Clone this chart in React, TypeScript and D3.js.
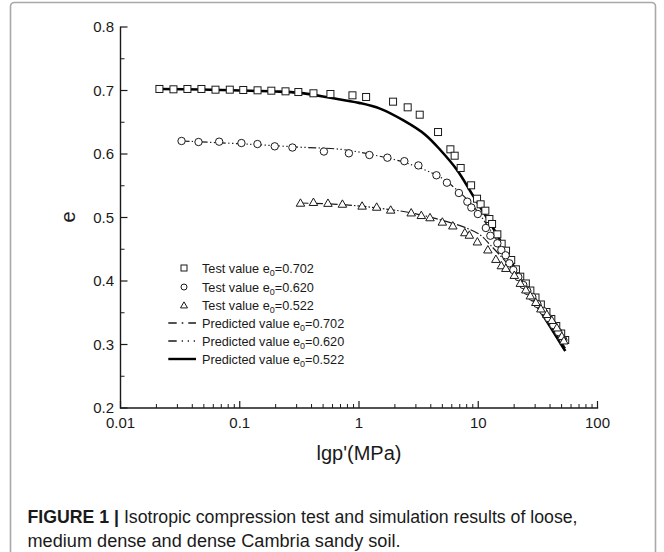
import React from "react";
import * as d3 from "d3";

// ---- data ----
const squareP = [0.0212, 0.0278, 0.0364, 0.0477, 0.0626, 0.0825, 0.107, 0.141, 0.184, 0.242, 0.31, 0.415, 0.576, 0.881, 1.147, 1.93, 2.56, 3.23, 4.6, 5.84, 6.34, 7.12, 8.71, 9.77, 10.47, 11.47, 12.4, 13.06, 14.46, 15.71, 17.1, 18.9, 20.7, 22.5, 25.06, 27.34, 30.2, 33.5, 37.3, 41.0, 45.1, 49.6, 53.6];
const squareE = [0.7024, 0.7019, 0.7024, 0.7024, 0.7013, 0.7013, 0.7008, 0.7003, 0.6997, 0.6987, 0.6976, 0.6956, 0.6945, 0.6924, 0.6898, 0.6824, 0.6735, 0.6619, 0.6346, 0.6074, 0.5973, 0.578, 0.5507, 0.5296, 0.5208, 0.5107, 0.4976, 0.4898, 0.4735, 0.4587, 0.4477, 0.4331, 0.4184, 0.4068, 0.3961, 0.385, 0.374, 0.363, 0.3512, 0.3402, 0.3291, 0.3173, 0.3071];

const circleP = [0.0325, 0.0451, 0.0672, 0.1033, 0.1407, 0.1965, 0.2765, 0.508, 0.823, 1.222, 1.73, 2.4, 3.15, 4.46, 5.46, 6.88, 8.1, 8.75, 9.92, 11.58, 12.63, 14.46, 15.62, 16.97, 18.23, 19.69, 21.69, 23.88, 25.8, 28.4, 31.3, 35.1, 38.7, 42.6, 46.9, 51.7];
const circleE = [0.6205, 0.6189, 0.6194, 0.6173, 0.6157, 0.6121, 0.6102, 0.6039, 0.6011, 0.5984, 0.5942, 0.5887, 0.582, 0.5665, 0.5548, 0.5386, 0.5249, 0.5157, 0.5055, 0.4835, 0.4713, 0.4594, 0.4488, 0.4405, 0.4279, 0.4173, 0.4063, 0.3937, 0.3843, 0.3748, 0.3638, 0.3528, 0.3417, 0.3307, 0.3197, 0.3071];

const triangleP = [0.323, 0.415, 0.549, 0.726, 1.062, 1.407, 1.844, 2.74, 3.33, 3.94, 5.0, 6.12, 7.72, 8.42, 9.83, 12.04, 14.05, 15.62, 17.03, 20.07, 22.54, 25.06, 27.34, 30.4, 33.5, 37.6, 41.4, 45.6, 50.2, 52.2];
const triangleE = [0.5224, 0.5236, 0.5222, 0.5208, 0.5178, 0.5161, 0.5115, 0.5071, 0.503, 0.4995, 0.4926, 0.4866, 0.4759, 0.472, 0.4614, 0.4488, 0.4339, 0.4239, 0.4197, 0.4087, 0.3961, 0.3858, 0.3764, 0.3661, 0.3559, 0.3472, 0.3378, 0.326, 0.3126, 0.3055];

// predicted curves
const pred702P = [0.0212, 0.0468, 0.123, 0.2, 0.318, 0.576, 1.0, 1.5, 2.38, 3.59, 4.81, 6.64, 9.15, 12.63, 17.44, 21.14, 33.2, 53.7];
const pred702E = [0.7024, 0.7016, 0.6995, 0.6985, 0.6962, 0.6885, 0.6805, 0.6715, 0.6525, 0.6305, 0.6063, 0.5748, 0.5328, 0.4909, 0.4436, 0.4135, 0.3528, 0.2898];

const pred620P = [0.0325, 0.123, 0.323, 0.698, 1.33, 2.53, 4.81, 6.64, 9.15, 12.63, 17.44, 21.14, 33.2, 53.7];
const pred620E = [0.6205, 0.6153, 0.6107, 0.6074, 0.5984, 0.5854, 0.5633, 0.5433, 0.517, 0.4803, 0.4383, 0.4121, 0.3559, 0.2945];

const pred522P = [0.317, 0.698, 1.51, 2.87, 5.48, 8.05, 10.4, 12.63, 17.44, 21.9, 33.2, 53.7];
const pred522E = [0.5228, 0.5205, 0.5145, 0.5066, 0.4934, 0.483, 0.4724, 0.4567, 0.4279, 0.4043, 0.3528, 0.2945];

const xTickValues = [0.01, 0.1, 1, 10, 100];
const xTickLabels = ["0.01", "0.1", "1", "10", "100"];
const yTickValues = [0.2, 0.3, 0.4, 0.5, 0.6, 0.7, 0.8];
const yTickLabels = ["0.2", "0.3", "0.4", "0.5", "0.6", "0.7", "0.8"];

const legendLabels = [
  "Test value e",
  "Test value e",
  "Test value e",
  "Predicted value e",
  "Predicted value e",
  "Predicted value e",
];
const legendValues = ["=0.702", "=0.620", "=0.522", "=0.702", "=0.620", "=0.522"];

const captionBold = "FIGURE 1 | ";
const captionLine1 = "Isotropic compression test and simulation results of loose,";
const captionLine2 = "medium dense and dense Cambria sandy soil.";

const FONT = "'Liberation Sans', Arial, Helvetica, sans-serif";
const INK = "#1a1a1a";

export default function App() {
  const x = d3.scaleLog().domain([0.01, 100]).range([120.5, 597.5]);
  const y = d3.scaleLinear().domain([0.2, 0.8]).range([408, 27]);

  const xMinor: number[] = [];
  [0.01, 0.1, 1, 10].forEach((d) => {
    for (let k = 2; k <= 9; k++) xMinor.push(d * k);
  });
  const yMinor = d3.range(0.25, 0.8, 0.1);

  const line = (ps: number[], es: number[]) =>
    d3
      .line<number>()
      .x((_, i) => x(ps[i]))
      .y((_, i) => y(es[i]))
      .curve(d3.curveCatmullRom.alpha(0.5))(ps) as string;

  const sq = (cx: number, cy: number, s: number, k: string) => (
    <rect key={k} x={cx - s / 2} y={cy - s / 2} width={s} height={s} fill="white" stroke={INK} strokeWidth={1} />
  );
  const ci = (cx: number, cy: number, r: number, k: string) => (
    <circle key={k} cx={cx} cy={cy} r={r} fill="white" stroke={INK} strokeWidth={1} />
  );
  const tri = (cx: number, cy: number, s: number, k: string) => {
    const h = s * 0.87;
    return (
      <path
        key={k}
        d={`M${cx},${cy - h * 0.6} L${cx + s / 2},${cy + h * 0.4} L${cx - s / 2},${cy + h * 0.4} Z`}
        fill="white"
        stroke={INK}
        strokeWidth={1}
      />
    );
  };

  const legendRows = [268, 287, 305, 323, 341, 359];
  const lx0 = 168.3;
  const lx1 = 196;

  return (
    <svg
      width={664}
      height={552}
      style={{ position: "absolute", left: 0, top: 0, background: "white" }}
      fontFamily={FONT}
    >
      <rect x={0} y={0} width={664} height={552} fill="white" />
      <rect x={10.5} y={2.5} width={645} height={620} rx={4} fill="none" stroke="#a8a8a8" strokeWidth={1.6} />

      {/* predicted curves */}
      <path d={line(pred522P, pred522E)} fill="none" stroke={INK} strokeWidth={1.2} strokeDasharray="9,2,1.5,2" />
      <path d={line(pred620P, pred620E)} fill="none" stroke={INK} strokeWidth={1.2} strokeDasharray="8,2.5,1.3,2.5,1.3,2.5" />
      <path d={line(pred702P, pred702E)} fill="none" stroke="#000" strokeWidth={2.6} />

      {/* test markers */}
      {squareP.map((p, i) => sq(x(p), y(squareE[i]), 7, "s" + i))}
      {circleP.map((p, i) => ci(x(p), y(circleE[i]), 3.7, "c" + i))}
      {triangleP.map((p, i) => tri(x(p), y(triangleE[i]), 8.5, "t" + i))}

      {/* axes */}
      <line x1={120.5} y1={408} x2={598.2} y2={408} stroke={INK} strokeWidth={1.4} />
      <line x1={120.5} y1={408.7} x2={120.5} y2={26.5} stroke={INK} strokeWidth={1.4} />
      {xTickValues.map((v) => (
        <line key={"xt" + v} x1={x(v)} x2={x(v)} y1={408} y2={401} stroke={INK} strokeWidth={1.2} />
      ))}
      {xMinor.map((v) => (
        <line key={"xm" + v} x1={x(v)} x2={x(v)} y1={408} y2={404} stroke={INK} strokeWidth={1} />
      ))}
      {yTickValues.map((v) => (
        <line key={"yt" + v} x1={120.5} x2={127.5} y1={y(v)} y2={y(v)} stroke={INK} strokeWidth={1.2} />
      ))}
      {yMinor.map((v) => (
        <line key={"ym" + v} x1={120.5} x2={124.5} y1={y(v)} y2={y(v)} stroke={INK} strokeWidth={1} />
      ))}
      {xTickValues.map((v, i) => (
        <text key={"xl" + v} x={x(v)} y={428} textAnchor="middle" fontSize={15} fill={INK}>
          {xTickLabels[i]}
        </text>
      ))}
      {yTickValues.map((v, i) => (
        <text key={"yl" + v} x={114} y={y(v) + 5.3} textAnchor="end" fontSize={15} fill={INK}>
          {yTickLabels[i]}
        </text>
      ))}
      <text x={359} y={460} textAnchor="middle" fontSize={20} fill={INK}>
        lgp'(MPa)
      </text>
      <text x={0} y={0} transform="translate(75,217) rotate(-90)" textAnchor="middle" fontSize={20} fill={INK}>
        e
      </text>

      {/* legend */}
      {sq(184, legendRows[0], 6, "lg0")}
      {ci(184, legendRows[1], 3, "lg1")}
      {tri(184, legendRows[2] + 0.5, 7, "lg2")}
      <line x1={lx0} x2={lx1} y1={legendRows[3]} y2={legendRows[3]} stroke={INK} strokeWidth={1.6} strokeDasharray="8.4,5,1.6,5,8.4" />
      <line x1={lx0} x2={lx1} y1={legendRows[4]} y2={legendRows[4]} stroke={INK} strokeWidth={1.6} strokeDasharray="8.4,5,1.3,4.7,1.3,4.7,1.3,4.7" />
      <line x1={lx0} x2={lx1} y1={legendRows[5]} y2={legendRows[5]} stroke="#000" strokeWidth={2.4} />
      {legendLabels.map((t, i) => (
        <text key={"lt" + i} x={202} y={legendRows[i] + 4.5} fontSize={12.7} fill={INK}>
          {t}
          <tspan fontSize={9} dy={3}>
            0
          </tspan>
          <tspan dy={-3}>{legendValues[i]}</tspan>
        </text>
      ))}

      {/* caption */}
      <text x={27.5} y={523} fontSize={17.5} fill={INK} textLength={550} lengthAdjust="spacingAndGlyphs">
        <tspan fontWeight="bold">{captionBold}</tspan>
        <tspan>{captionLine1}</tspan>
      </text>
      <text x={27.5} y={547} fontSize={17.5} fill={INK} textLength={373} lengthAdjust="spacingAndGlyphs">
        {captionLine2}
      </text>
    </svg>
  );
}
